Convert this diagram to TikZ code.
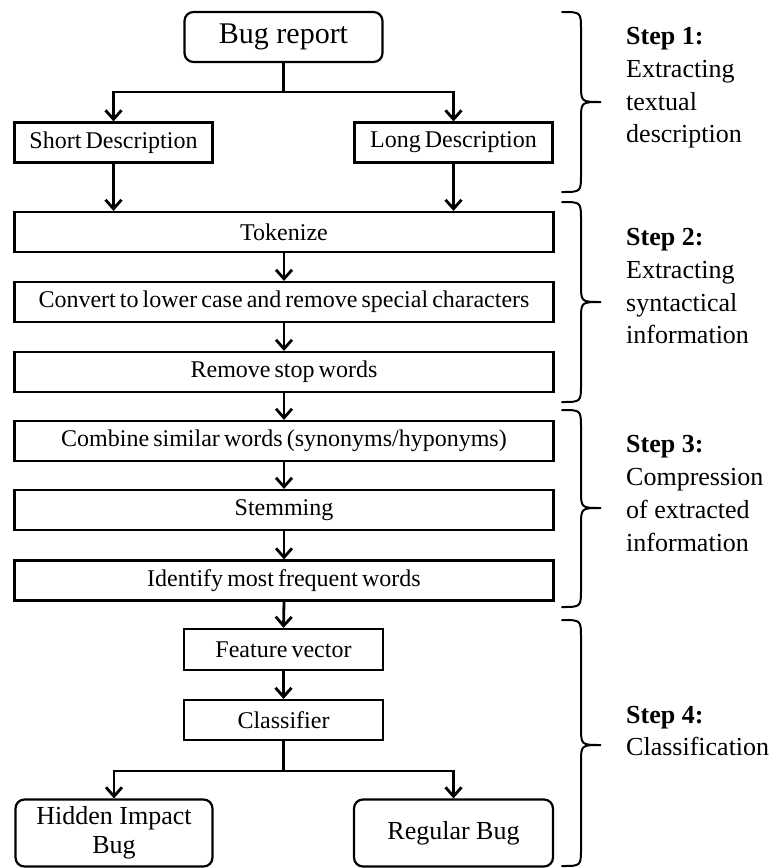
\documentclass[tikz,border=0pt]{standalone}
\usepackage{fontspec}
\setmainfont{Liberation Serif}
\usetikzlibrary{arrows.meta}
\newcommand\stepbrace[3]{%
  \draw[bracel] (562,#1) .. controls (581,#1) .. (581,#1+18) -- (581,#3-18)
    .. controls (581,#3) .. (601,#3) .. controls (581,#3) .. (581,#3+18)
    -- (581,#2-18) .. controls (581,#2) .. (562,#2);}
\newcommand\tightwords{\fontsize{24}{28}\selectfont\spaceskip=0.17em plus 0.05em\relax}
\begin{document}
\begin{tikzpicture}[x=1pt,y=-1pt,
  box/.style={draw, line width=2.2pt, minimum height=40pt, inner sep=0pt,
    font=\tightwords},
  rbox/.style={box, rounded corners=9pt},
  conn/.style={line width=2.8pt, -{Straight Barb[length=9pt,width=16pt]}},
  plain/.style={line width=2.8pt},
  bracel/.style={line width=2pt, line cap=round},
  steplbl/.style={anchor=base west, inner sep=0pt, font=\fontsize{26}{30}\selectfont}]
\useasboundingbox (0,0) rectangle (771,868);

% flow nodes
\node[rbox, minimum width=198pt, minimum height=50pt, font=\fontsize{30}{34}\selectfont] (bug) at (283.5,37) {Bug report};
\node[box, minimum width=198pt] (short) at (113.5,142.5) {Short Description};
\node[box, minimum width=198pt] (long) at (453.5,142.5) {Long Description};
\node[box, minimum width=539pt] (tok) at (284,232) {Tokenize};
\node[box, minimum width=539pt] (conv) at (284,302) {Convert to lower case and remove special characters};
\node[box, minimum width=539pt] (rem) at (284,372) {Remove stop words};
\node[box, minimum width=539pt] (comb) at (284,441) {Combine similar words (synonyms/hyponyms)};
\node[box, minimum width=539pt] (stem) at (284,510) {Stemming};
\node[box, minimum width=539pt] (ident) at (284,580.5) {Identify most frequent words};
\node[box, minimum width=199pt, minimum height=41pt] (feat) at (283.5,649.5) {Feature vector};
\node[box, minimum width=199pt] (class) at (283.5,720) {Classifier};
\node[rbox, minimum width=197pt, minimum height=67pt, align=center,
  font=\fontsize{26}{29}\selectfont] (hid) at (114,833) {Hidden Impact\\Bug};
\node[rbox, minimum width=199pt, minimum height=67pt,
  font=\fontsize{26}{29}\selectfont] (reg) at (453.5,833) {Regular Bug};

% connectors
\coordinate (j1) at (283.5,92);
\coordinate (j2) at (283.5,771);
\draw[plain] (bug.south) -- (j1);
\draw[conn] (j1) -| (short.north);
\draw[conn] (j1) -| (long.north);
\draw[conn] (short.south) -- (short.south |- tok.north);
\draw[conn] (long.south) -- (long.south |- tok.north);
\draw[conn] (tok.south) -- (conv.north);
\draw[conn] (conv.south) -- (rem.north);
\draw[conn] (rem.south) -- (comb.north);
\draw[conn] (comb.south) -- (stem.north);
\draw[conn] (stem.south) -- (ident.north);
\draw[conn] (ident.south) -- (feat.north);
\draw[conn] (feat.south) -- (class.north);
\draw[plain] (class.south) -- (j2);
\draw[conn] (j2) -| (hid.north);
\draw[conn] (j2) -| (reg.north);

% braces
\stepbrace{12}{192}{102}
\stepbrace{202}{402}{302}
\stepbrace{410}{607}{508}
\stepbrace{620}{866}{745}

% step labels
\node[steplbl, font=\fontsize{26}{30}\selectfont\bfseries] (s1a) at (626,44) {Step 1:};
\node[steplbl] (s1b) at (626,77) {Extracting};
\node[steplbl] (s1c) at (626,110) {textual};
\node[steplbl] (s1d) at (626,142) {description};

\node[steplbl, font=\fontsize{26}{30}\selectfont\bfseries] (s2a) at (626,245) {Step 2:};
\node[steplbl] (s2b) at (626,278) {Extracting};
\node[steplbl] (s2c) at (626,311) {syntactical};
\node[steplbl] (s2d) at (626,343) {information};

\node[steplbl, font=\fontsize{26}{30}\selectfont\bfseries] (s3a) at (626,452) {Step 3:};
\node[steplbl] (s3b) at (626,485) {Compression};
\node[steplbl] (s3c) at (626,518) {of extracted};
\node[steplbl] (s3d) at (626,551) {information};

\node[steplbl, font=\fontsize{26}{30}\selectfont\bfseries] (s4a) at (626,723) {Step 4:};
\node[steplbl] (s4b) at (626,755) {Classification};
\end{tikzpicture}
\end{document}
